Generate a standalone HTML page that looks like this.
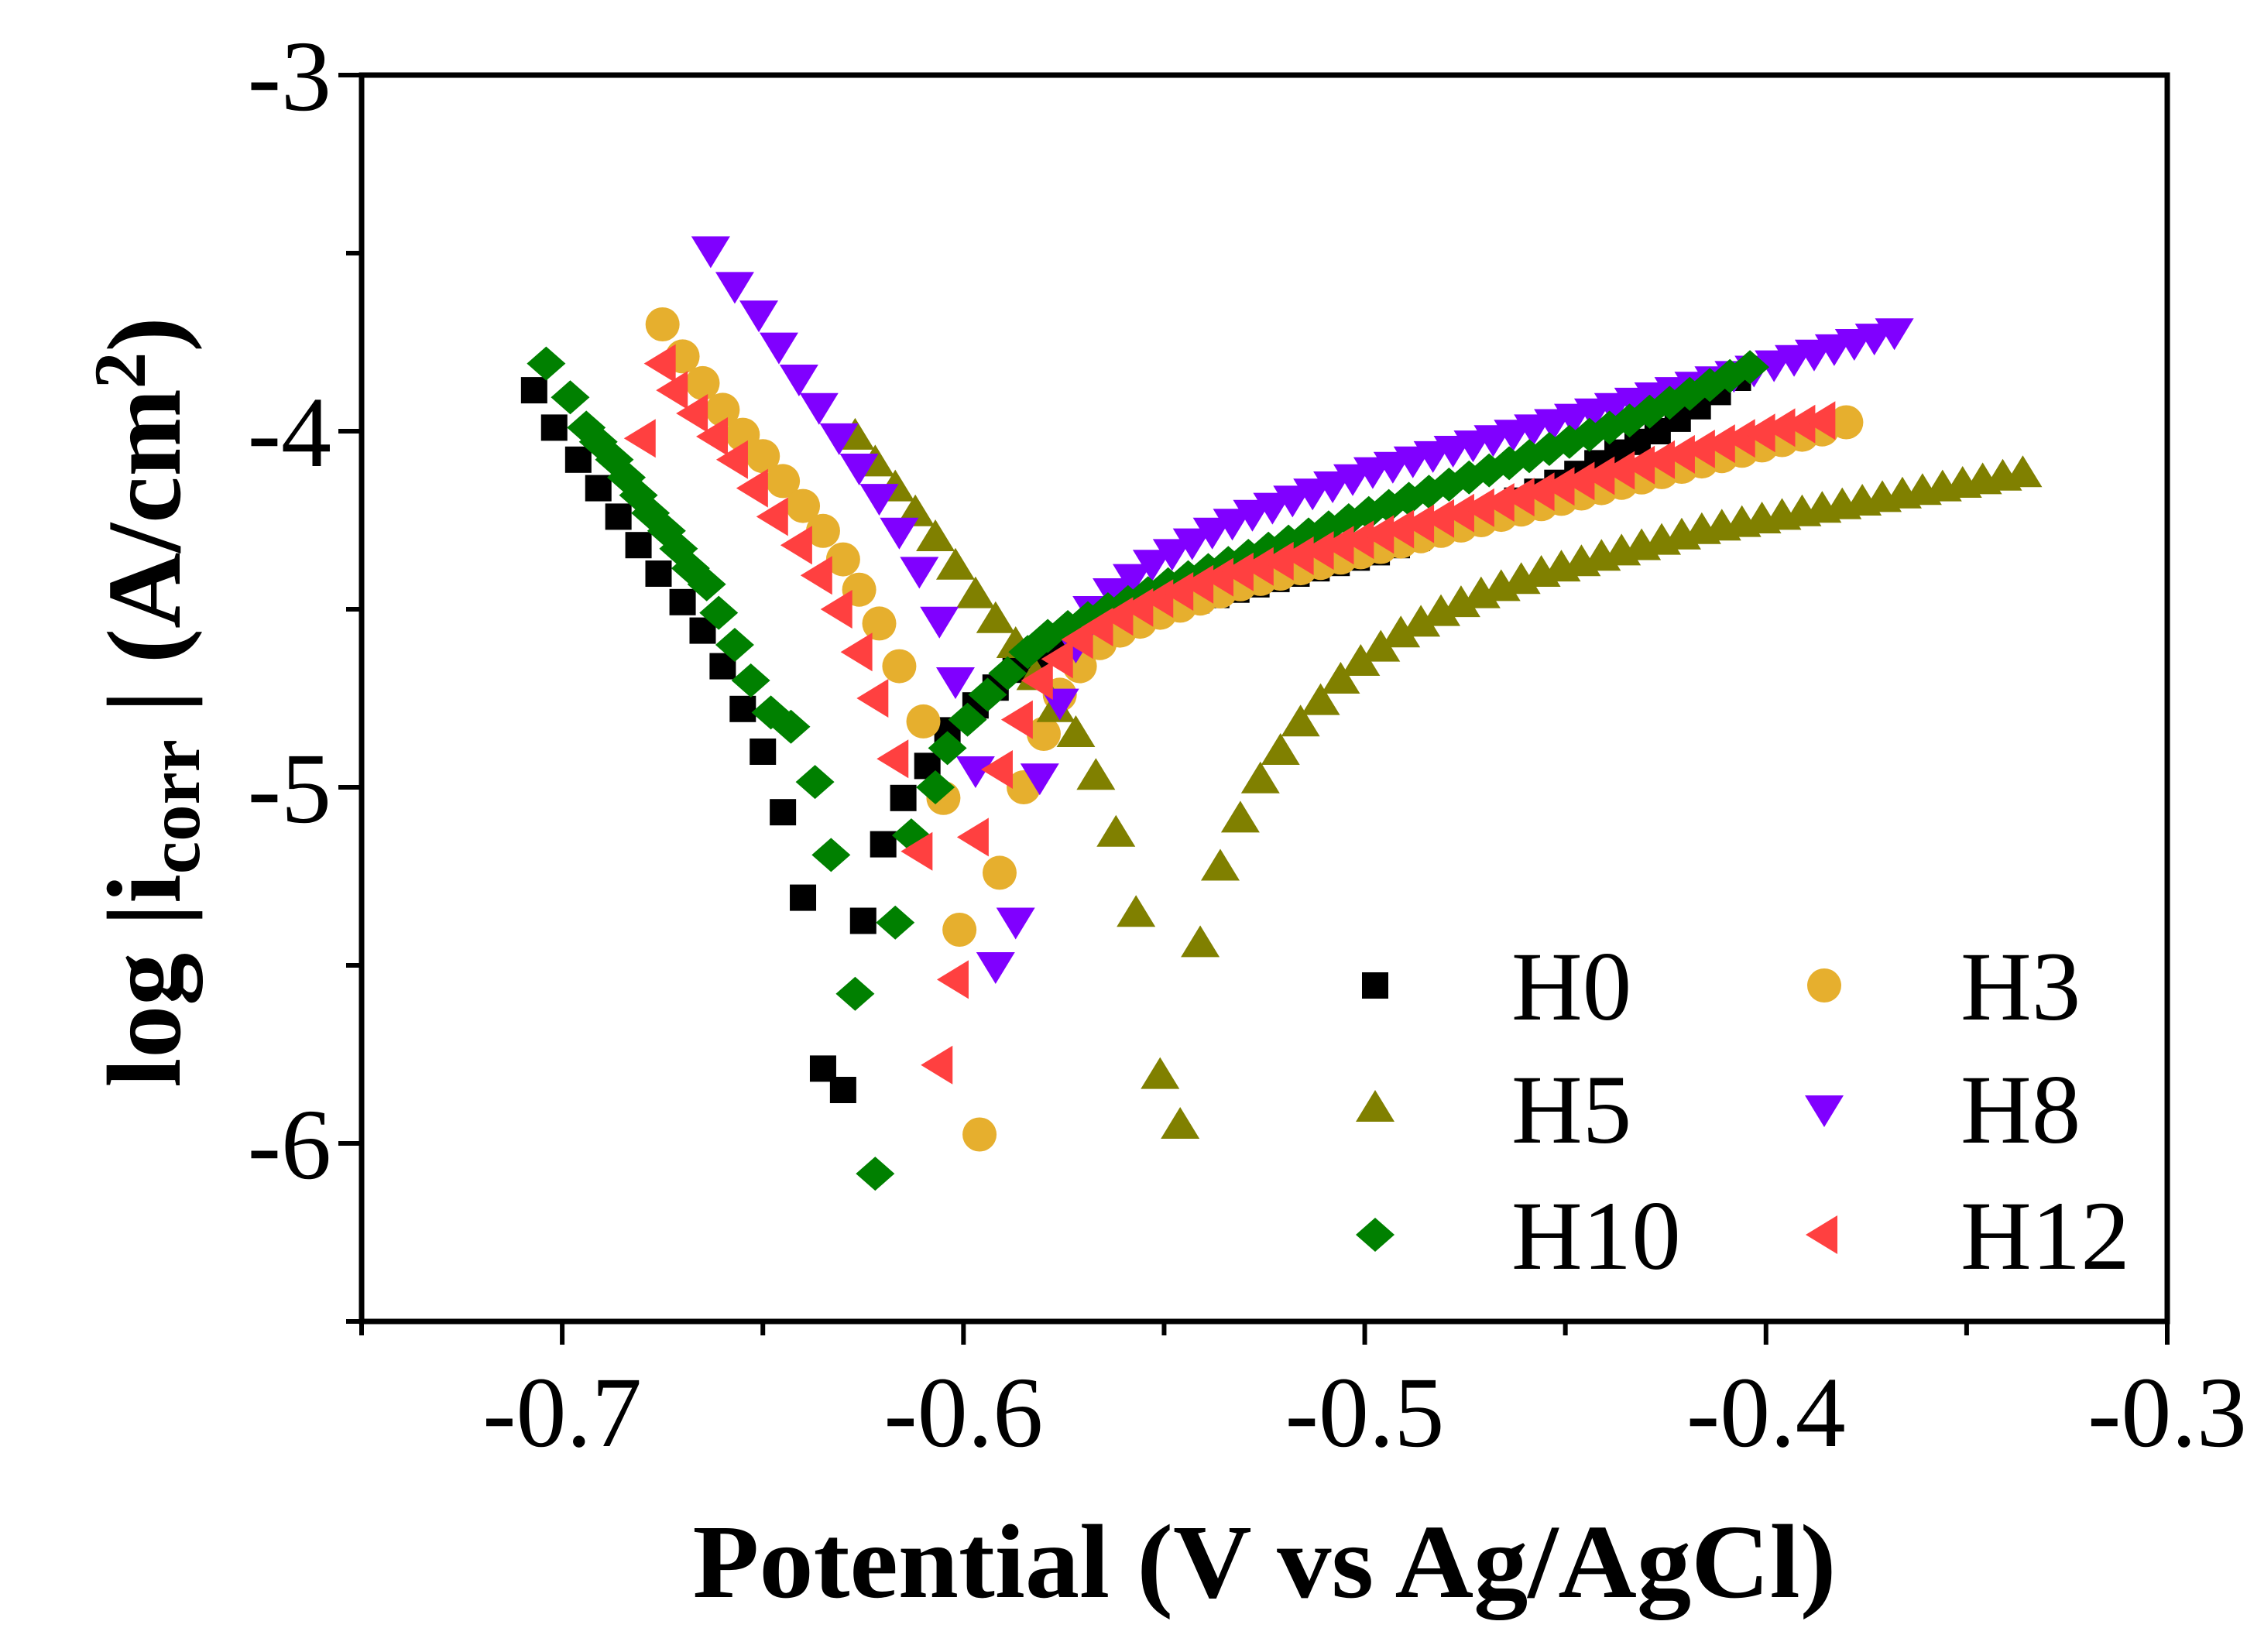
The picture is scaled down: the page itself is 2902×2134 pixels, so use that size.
<!DOCTYPE html>
<html><head><meta charset="utf-8"><style>
html,body{margin:0;padding:0;background:#fff}
svg{display:block}
text{font-family:"Liberation Serif",serif;fill:#000}
</style></head><body>
<svg id="chart" width="2902" height="2134" viewBox="0 0 2902 2134" xmlns="http://www.w3.org/2000/svg">
<g id="marks"></g>
<g id="axes"></g>
<g id="legend"></g>
</svg>
<script>
// ---- data ----
const xTicks = [-0.7, -0.6, -0.5, -0.4, -0.3];
const xTickLabels = ["-0.7", "-0.6", "-0.5", "-0.4", "-0.3"];
const xMinor = [-0.75, -0.65, -0.55, -0.45, -0.35];
const yTicks = [-3, -4, -5, -6];
const yTickLabels = ["-3", "-4", "-5", "-6"];
const yMinor = [-3.5, -4.5, -5.5, -6.5];

const h0X = [-0.707,-0.702,-0.696,-0.691,-0.686,-0.681,-0.676,-0.670,-0.665,-0.660,-0.655,-0.650,-0.645,-0.640,-0.635,-0.630,
 -0.625,-0.620,-0.615,-0.609,-0.604,-0.597,-0.592,-0.587,-0.582,-0.577,-0.572,-0.567,-0.562,-0.557,-0.552,-0.547,-0.542,-0.537,-0.532,-0.527,-0.522,-0.517,-0.512,-0.507,-0.502,-0.497,-0.492,-0.487,-0.482,-0.477,-0.472,-0.467,-0.462,-0.457,-0.452,-0.447,-0.442,-0.437,-0.432,-0.427,-0.422,-0.417,-0.412,-0.407];
const h0Y = [-3.885,-3.99,-4.08,-4.16,-4.24,-4.32,-4.40,-4.48,-4.56,-4.66,-4.78,-4.90,-5.07,-5.31,-5.79,-5.85,
 -5.375,-5.16,-5.03,-4.94,-4.84,-4.77,-4.72,-4.67,-4.63,-4.60,-4.575,-4.555,-4.535,-4.52,-4.505,-4.49,-4.475,-4.46,-4.445,-4.43,-4.415,-4.40,-4.385,-4.37,-4.355,-4.34,-4.32,-4.30,-4.28,-4.26,-4.24,-4.22,-4.195,-4.17,-4.145,-4.12,-4.09,-4.06,-4.03,-4.00,-3.965,-3.93,-3.89,-3.85];

const h3X = [-0.675,-0.670,-0.665,-0.660,-0.655,-0.650,-0.645,-0.640,-0.635,-0.630,-0.626,-0.621,-0.616,-0.610,-0.605,-0.601,-0.596,
 -0.591,-0.585,-0.580,-0.576,-0.571,-0.566,-0.561,-0.556,-0.551,-0.546,-0.541,-0.536,-0.531,-0.526,-0.521,-0.516,-0.511,-0.506,-0.501,-0.496,-0.491,-0.486,-0.481,-0.476,-0.471,-0.466,-0.461,-0.456,-0.451,-0.446,-0.441,-0.436,-0.431,-0.426,-0.421,-0.416,-0.411,-0.406,-0.401,-0.396,-0.391,-0.386,-0.380];
const h3Y = [-3.70,-3.79,-3.865,-3.94,-4.01,-4.07,-4.14,-4.21,-4.28,-4.36,-4.445,-4.54,-4.66,-4.815,-5.03,-5.40,-5.975,
 -5.24,-5.00,-4.85,-4.74,-4.66,-4.595,-4.56,-4.535,-4.51,-4.49,-4.47,-4.45,-4.43,-4.415,-4.40,-4.385,-4.37,-4.355,-4.34,-4.325,-4.31,-4.295,-4.28,-4.265,-4.25,-4.235,-4.22,-4.205,-4.19,-4.175,-4.16,-4.145,-4.13,-4.115,-4.10,-4.085,-4.07,-4.055,-4.04,-4.025,-4.01,-3.995,-3.975];

const h5X = [-0.627,-0.622,-0.617,-0.612,-0.607,-0.602,-0.597,-0.592,-0.587,-0.582,-0.577,-0.572,-0.567,-0.562,-0.557,-0.551,-0.546,
 -0.541,-0.536,-0.531,-0.526,-0.521,-0.516,-0.511,-0.506,-0.501,-0.496,-0.491,-0.486,-0.481,-0.476,-0.471,-0.466,-0.461,-0.456,-0.451,-0.446,-0.441,-0.436,-0.431,-0.426,-0.421,-0.416,-0.411,-0.406,-0.401,-0.396,-0.391,-0.386,-0.381,-0.376,-0.371,-0.366,-0.361,-0.356,-0.351,-0.346,-0.341,-0.336];
const h5Y = [-4.015,-4.09,-4.16,-4.23,-4.30,-4.38,-4.46,-4.53,-4.60,-4.69,-4.78,-4.85,-4.97,-5.13,-5.355,-5.81,-5.95,
 -5.44,-5.225,-5.09,-4.98,-4.90,-4.82,-4.76,-4.70,-4.65,-4.61,-4.57,-4.54,-4.51,-4.485,-4.46,-4.44,-4.42,-4.40,-4.385,-4.37,-4.355,-4.34,-4.325,-4.31,-4.295,-4.28,-4.27,-4.26,-4.25,-4.24,-4.23,-4.22,-4.21,-4.20,-4.19,-4.18,-4.17,-4.16,-4.15,-4.14,-4.13,-4.12];

const h8X = [-0.663,-0.657,-0.651,-0.646,-0.641,-0.636,-0.631,-0.626,-0.621,-0.616,-0.611,-0.606,-0.602,-0.597,-0.592,
 -0.587,-0.581,-0.576,-0.572,-0.568,-0.563,-0.558,-0.553,-0.548,-0.543,-0.538,-0.533,-0.528,-0.523,-0.518,-0.513,-0.508,-0.503,-0.498,-0.493,-0.488,-0.483,-0.478,-0.473,-0.468,-0.463,-0.458,-0.453,-0.448,-0.443,-0.438,-0.433,-0.428,-0.423,-0.418,-0.413,-0.408,-0.403,-0.398,-0.393,-0.388,-0.383,-0.378,-0.373,-0.368];
const h8Y = [-3.49,-3.59,-3.67,-3.76,-3.85,-3.93,-4.015,-4.10,-4.185,-4.28,-4.39,-4.53,-4.70,-4.95,-5.50,
 -5.375,-4.97,-4.76,-4.60,-4.50,-4.45,-4.41,-4.37,-4.34,-4.31,-4.28,-4.255,-4.23,-4.21,-4.19,-4.17,-4.15,-4.13,-4.11,-4.095,-4.08,-4.065,-4.05,-4.035,-4.02,-4.005,-3.99,-3.975,-3.96,-3.945,-3.93,-3.915,-3.90,-3.885,-3.87,-3.855,-3.84,-3.825,-3.81,-3.795,-3.78,-3.765,-3.75,-3.735,-3.72];

const h10X = [-0.704,-0.698,-0.694,-0.691,-0.687,-0.684,-0.681,-0.678,-0.674,-0.671,-0.668,-0.664,-0.661,-0.657,-0.653,-0.648,-0.643,-0.637,-0.633,-0.627,-0.622,
 -0.617,-0.613,-0.607,-0.604,-0.599,-0.594,-0.589,-0.584,-0.579,-0.574,-0.569,-0.564,-0.559,-0.554,-0.549,-0.544,-0.539,-0.534,-0.529,-0.524,-0.519,-0.514,-0.509,-0.504,-0.499,-0.494,-0.489,-0.484,-0.479,-0.474,-0.469,-0.464,-0.459,-0.454,-0.449,-0.444,-0.439,-0.434,-0.429,-0.424,-0.419,-0.414,-0.409,-0.404];
const h10Y = [-3.81,-3.905,-3.99,-4.03,-4.08,-4.13,-4.18,-4.23,-4.28,-4.33,-4.385,-4.43,-4.51,-4.60,-4.70,-4.79,-4.83,-4.985,-5.19,-5.58,-6.085,
 -5.38,-5.135,-5.00,-4.89,-4.81,-4.74,-4.68,-4.62,-4.575,-4.55,-4.525,-4.50,-4.48,-4.455,-4.43,-4.41,-4.39,-4.37,-4.35,-4.33,-4.31,-4.29,-4.27,-4.25,-4.23,-4.21,-4.19,-4.17,-4.15,-4.13,-4.11,-4.09,-4.07,-4.05,-4.03,-4.01,-3.99,-3.97,-3.945,-3.92,-3.895,-3.87,-3.845,-3.82];

const h12X = [-0.680,-0.675,-0.672,-0.667,-0.662,-0.657,-0.652,-0.647,-0.641,-0.636,-0.631,-0.626,-0.622,-0.617,-0.611,-0.606,
 -0.602,-0.597,-0.591,-0.586,-0.581,-0.576,-0.571,-0.566,-0.561,-0.556,-0.551,-0.546,-0.541,-0.536,-0.531,-0.526,-0.521,-0.516,-0.511,-0.506,-0.501,-0.496,-0.491,-0.486,-0.481,-0.476,-0.471,-0.466,-0.461,-0.456,-0.451,-0.446,-0.441,-0.436,-0.431,-0.426,-0.421,-0.416,-0.411,-0.406,-0.401,-0.396,-0.391,-0.386];
const h12Y = [-4.02,-3.81,-3.885,-3.95,-4.015,-4.08,-4.16,-4.24,-4.32,-4.405,-4.50,-4.62,-4.75,-4.92,-5.18,-5.78,
 -5.54,-5.14,-4.95,-4.81,-4.70,-4.64,-4.585,-4.55,-4.52,-4.495,-4.47,-4.45,-4.43,-4.41,-4.395,-4.38,-4.365,-4.35,-4.335,-4.32,-4.305,-4.29,-4.275,-4.26,-4.245,-4.23,-4.215,-4.20,-4.185,-4.17,-4.155,-4.14,-4.125,-4.11,-4.095,-4.08,-4.065,-4.05,-4.035,-4.02,-4.005,-3.99,-3.98,-3.97];

const seriesNames = ["H0", "H3", "H5", "H8", "H10", "H12"];

// ---- axes mapping ----
const L = 467, R = 2799, T = 97, B = 1707;
const xMin = -0.75, xMax = -0.3, yMax = -3, yMin = -6.5;
function X(v){ return L + (v - xMin) / (xMax - xMin) * (R - L); }
function Y(v){ return T + (yMax - v) / (yMax - yMin) * (B - T); }

const NS = "http://www.w3.org/2000/svg";
function mk(tag, attrs, parent){
  const e = document.createElementNS(NS, tag);
  for (const k in attrs) e.setAttribute(k, attrs[k]);
  parent.appendChild(e);
  return e;
}

function marker(shape, color, cx, cy, parent){
  let e;
  if (shape === "square"){
    e = mk("rect", {x: cx-17, y: cy-17, width: 34, height: 34, fill: color}, parent);
  } else if (shape === "circle"){
    e = mk("circle", {cx: cx, cy: cy, r: 22, fill: color}, parent);
  } else if (shape === "up"){
    e = mk("polygon", {points: `${cx},${cy-24} ${cx+25},${cy+17} ${cx-25},${cy+17}`, fill: color}, parent);
  } else if (shape === "down"){
    e = mk("polygon", {points: `${cx},${cy+24} ${cx+25},${cy-17} ${cx-25},${cy-17}`, fill: color}, parent);
  } else if (shape === "diamond"){
    e = mk("polygon", {points: `${cx},${cy-22} ${cx+25},${cy} ${cx},${cy+22} ${cx-25},${cy}`, fill: color}, parent);
  } else {
    e = mk("polygon", {points: `${cx-24},${cy} ${cx+17},${cy-25} ${cx+17},${cy+25}`, fill: color}, parent);
  }
  return e;
}

const marks = document.getElementById("marks");
const allSeries = [
  {name: "H0", xs: h0X, ys: h0Y, shape: "square", color: "#000000"},
  {name: "H3", xs: h3X, ys: h3Y, shape: "circle", color: "#E6AF2E"},
  {name: "H5", xs: h5X, ys: h5Y, shape: "up", color: "#808000"},
  {name: "H8", xs: h8X, ys: h8Y, shape: "down", color: "#8000FF"},
  {name: "H10", xs: h10X, ys: h10Y, shape: "diamond", color: "#008000"},
  {name: "H12", xs: h12X, ys: h12Y, shape: "left", color: "#FF4040"}
];
allSeries.forEach(s => {
  const g = mk("g", {}, marks);
  
  
  const n = Math.min(s.xs.length, s.ys.length);
  for (let i = 0; i < n; i++){
    const p = marker(s.shape, s.color, X(s.xs[i]), Y(s.ys[i]), g);
    
    
  }
});

// ---- axes ----
const axes = document.getElementById("axes");
const frame = mk("rect", {x: L, y: T, width: R-L, height: B-T, fill: "none", stroke: "#000", "stroke-width": 7}, axes);



xTicks.forEach((v, i) => {
  const t = mk("line", {x1: X(v), y1: B, x2: X(v), y2: B+30, stroke: "#000", "stroke-width": 6}, axes);
  
  
  const lb = mk("text", {x: X(v), y: 1868, "text-anchor": "middle", "font-size": 130}, axes);
  lb.textContent = xTickLabels[i];
  
  
});
xMinor.forEach(v => {
  const t = mk("line", {x1: X(v), y1: B, x2: X(v), y2: B+18, stroke: "#000", "stroke-width": 6}, axes);
  
  
});
yTicks.forEach((v, i) => {
  const t = mk("line", {x1: L-30, y1: Y(v), x2: L, y2: Y(v), stroke: "#000", "stroke-width": 6}, axes);
  
  
  const lb = mk("text", {x: 428, y: Y(v) + 45, "text-anchor": "end", "font-size": 130}, axes);
  lb.textContent = yTickLabels[i];
  
  
});
yMinor.forEach(v => {
  const t = mk("line", {x1: L-20, y1: Y(v), x2: L, y2: Y(v), stroke: "#000", "stroke-width": 6}, axes);
  
  
});

const xt = mk("text", {x: 1633, y: 2063, "text-anchor": "middle", "font-size": 136, "font-weight": "bold", textLength: 1477, lengthAdjust: "spacingAndGlyphs"}, axes);
xt.textContent = "Potential (V vs Ag/AgCl)";



const yt = mk("text", {x: 0, y: 0, "text-anchor": "middle", "font-size": 136, "font-weight": "bold", transform: "translate(232,907) rotate(-90)"}, axes);


yt.innerHTML = 'log |i<tspan font-size="95" dy="25">corr</tspan><tspan dy="-25"> | (A/cm</tspan><tspan font-size="95" dy="-45">2</tspan><tspan dy="45">)</tspan>';

// ---- legend ----
const legend = document.getElementById("legend");
const legendPos = [[1776,1273],[2356,1273],[1776,1432],[2356,1432],[1776,1595],[2356,1595]];
const legendOrder = ["H0","H3","H5","H8","H10","H12"];
legendOrder.forEach((nm, i) => {
  const s = allSeries.find(q => q.name === nm);
  const g = mk("g", {}, legend);
  
  
  marker(s.shape, s.color, legendPos[i][0], legendPos[i][1], g);
  const t = mk("text", {x: legendPos[i][0] + 176, y: legendPos[i][1] + 44, "font-size": 127}, g);
  t.textContent = nm;
});
</script>
</body></html>
